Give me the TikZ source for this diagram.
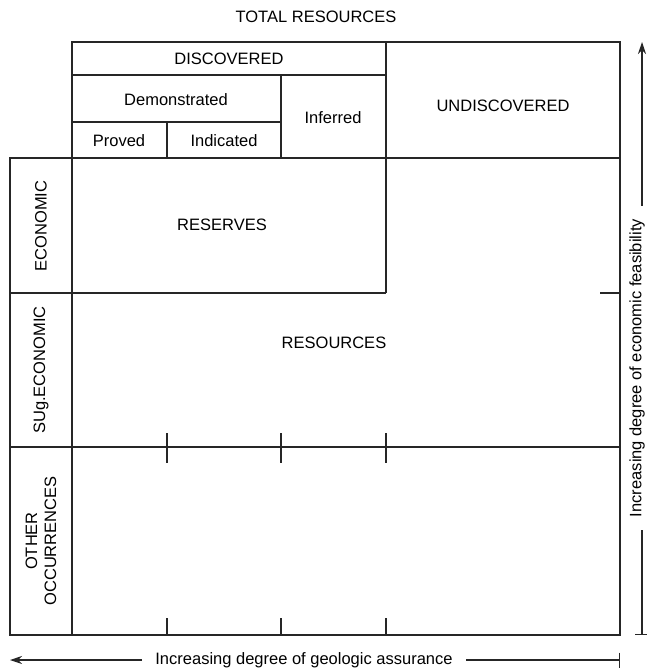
\documentclass[tikz,border=0pt]{standalone}
\usepackage{fontspec}
\setmainfont{Liberation Sans}
\usetikzlibrary{arrows.meta,positioning}

\begin{document}
\begin{tikzpicture}[
    x=1pt, y=-1pt,
    grid/.style={line width=1.1pt, black!85},
    lbl/.style={font=\fontsize{16.5}{19}\selectfont, inner sep=0pt},
    side/.style={lbl, rotate=90, align=center},
    axis/.style={lbl, inner xsep=13pt, inner ysep=2pt},
    arrow/.style={line width=1.1pt, black!85, -{Stealth[length=12pt,width=8pt]}},
    barline/.style={line width=1.1pt, black!85, {Bar[width=15pt]}-}
]
\useasboundingbox (0,0) rectangle (647,672);

% Table
\draw[grid] (72,42) rectangle (620,635);
\draw[grid] (10,158) rectangle (72,635);
\draw[grid] (72,75) -- (386,75);
\draw[grid] (72,122) -- (281,122);
\draw[grid] (167,122) -- (167,158);
\draw[grid] (281,75) -- (281,158);
\draw[grid] (386,42) -- (386,293);
\draw[grid] (72,158) -- (620,158);
\draw[grid] (10,293) -- (386,293);
\draw[grid] (600,293) -- (620,293);
\draw[grid] (10,447) -- (620,447);
\foreach \x in {167,281,386} {
    \draw[grid] (\x,433) -- (\x,463);
    \draw[grid] (\x,618) -- (\x,635);
}

% Nodes
\node[lbl] (total) at (316,17) {TOTAL RESOURCES};
\node[lbl] (disc) at (229,59) {DISCOVERED};
\node[lbl] (demo) at (176,100) {Demonstrated};
\node[lbl] (inferred) at (333,118) {Inferred};
\node[lbl] (proved) at (119,141) {Proved};
\node[lbl] (indicated) at (224,141) {Indicated};
\node[lbl] (undisc) at (503,106) {UNDISCOVERED};
\node[lbl] (reserves) at (222,225) {RESERVES};
\node[lbl] (resources) at (334,343) {RESOURCES};
\node[side] (econ) at (41,226) {ECONOMIC};
\node[side] (subecon) at (41,370) {SUg.ECONOMIC};
\node[side] (other) at (41,541) {OTHER\\OCCURRENCES};

% Arrows
\coordinate (geotip) at (10,660);
\coordinate (geobar) at (620,660);
\node[axis] (geotext) at (304,660) {Increasing degree of geologic assurance};
\draw[arrow] (geotext.west) -- (geotip);
\draw[barline] (geobar) -- (geotext.east);

\coordinate (econtip) at (642,42);
\coordinate (econbar) at (642,635);
\node[axis, rotate=90] (econtext) at (637,368) {Increasing degree of economic feasibility};
\draw[arrow] (econtext.east -| econtip) -- (econtip);
\draw[barline] (econbar) -- (econtext.west -| econbar);

\end{tikzpicture}
\end{document}
